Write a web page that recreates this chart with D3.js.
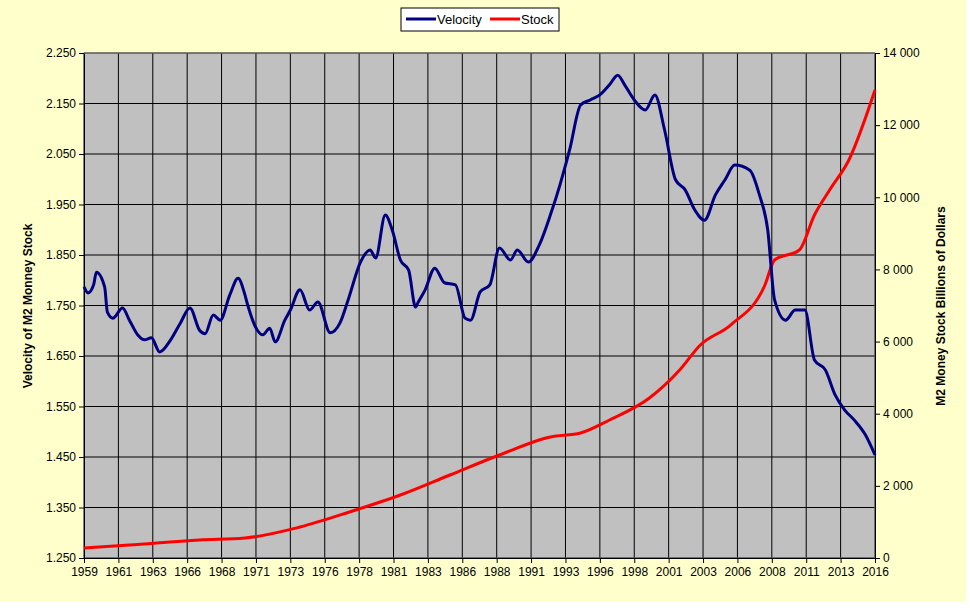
<!DOCTYPE html>
<html><head><meta charset="utf-8">
<script src="https://cdn.jsdelivr.net/npm/d3@7"></script>
<style>body{margin:0;background:#fff}</style></head>
<body><svg id="c" width="970" height="615"></svg>
<script>
const xLabels=["1959","1961","1963","1966","1968","1971","1973","1976","1978","1981","1983","1986","1988","1991","1993","1996","1998","2001","2003","2006","2008","2011","2013","2016"];
const velTicks=[1.25,1.35,1.45,1.55,1.65,1.75,1.85,1.95,2.05,2.15,2.25];
const stockTicks=[0,2000,4000,6000,8000,10000,12000,14000];
const velYears=[1959.0,1959.3,1959.7,1959.9,1960.5,1960.7,1961.1,1961.8,1962.3,1962.9,1963.4,1963.9,1964.5,1965.3,1966.0,1966.7,1967.4,1967.8,1968.4,1968.9,1969.6,1970.2,1970.7,1970.9,1971.6,1972.0,1972.5,1972.9,1973.6,1974.0,1974.7,1975.4,1976.0,1976.9,1977.6,1978.2,1979.1,1979.8,1980.2,1980.9,1981.4,1982.0,1982.6,1983.1,1983.3,1983.8,1984.5,1985.2,1986.0,1986.7,1987.1,1987.8,1988.5,1989.2,1990.0,1990.5,1991.3,1992.1,1992.9,1993.6,1994.3,1995.1,1995.8,1996.5,1997.2,1997.8,1998.3,1999.0,1999.8,2000.5,2001.2,2002.0,2002.7,2003.4,2004.1,2004.9,2005.6,2006.3,2007.4,2008.1,2008.7,2009.2,2010.0,2010.7,2011.4,2012.1,2012.9,2013.6,2014.3,2015.0,2015.8,2016.5];
const velocity=[1.787,1.775,1.791,1.816,1.787,1.737,1.725,1.745,1.721,1.692,1.682,1.686,1.658,1.682,1.715,1.745,1.701,1.694,1.731,1.721,1.771,1.804,1.771,1.751,1.701,1.692,1.705,1.678,1.721,1.741,1.781,1.741,1.757,1.696,1.715,1.761,1.836,1.860,1.844,1.929,1.900,1.840,1.820,1.747,1.757,1.781,1.824,1.795,1.791,1.725,1.721,1.777,1.791,1.864,1.840,1.860,1.836,1.870,1.929,1.989,2.058,2.147,2.157,2.167,2.187,2.206,2.187,2.157,2.137,2.167,2.098,1.999,1.979,1.939,1.919,1.969,1.999,2.028,2.018,1.969,1.900,1.761,1.721,1.741,1.741,1.642,1.622,1.573,1.543,1.523,1.494,1.454];
const stockYears=[1959.0,1962.3,1967.4,1970.7,1974.7,1978.3,1982.0,1985.6,1989.2,1992.9,1995.1,1997.2,2000.1,2002.3,2003.8,2006.0,2008.5,2009.2,2011.0,2012.1,2013.2,2014.6,2016.5];
const stock=[277,360,499,554,859,1275,1746,2301,2855,3354,3465,3825,4435,5211,5904,6459,7568,8261,8538,9508,10201,11033,12973];

const svg=d3.select("#c");
const L=84,R=875,T=53,B=558;
svg.append("rect").attr("x",0).attr("y",0).attr("width",966).attr("height",601).attr("fill","#FFFFCC");
const xi=d3.scaleLinear().domain([0,23]).range([L,R]);
const xt=d3.scaleLinear().domain([1959,2016.5]).range([L,R]);
const yv=d3.scaleLinear().domain([1.25,2.25]).range([B,T]);
const ys=d3.scaleLinear().domain([0,14000]).range([B,T]);
svg.append("rect").attr("x",L).attr("y",T).attr("width",R-L).attr("height",B-T).attr("fill","#C0C0C0");
const g=svg.append("g");
velTicks.forEach(t=>g.append("line").attr("x1",L).attr("x2",R).attr("y1",yv(t)).attr("y2",yv(t)).attr("stroke","#000"));
d3.range(24).forEach(i=>g.append("line").attr("x1",xi(i)).attr("x2",xi(i)).attr("y1",T).attr("y2",B).attr("stroke","#000"));
svg.append("rect").attr("x",L).attr("y",T).attr("width",R-L).attr("height",B-T).attr("fill","none").attr("stroke","#808080");
const font="'Liberation Sans',Arial,sans-serif";
const ax=svg.append("g").attr("transform",`translate(0,${B})`).call(d3.axisBottom(xi).tickValues(d3.range(24)).tickFormat(i=>xLabels[i]).tickSizeOuter(0).tickSize(5).tickPadding(4));
const ayl=svg.append("g").attr("transform",`translate(${L},0)`).call(d3.axisLeft(yv).tickValues(velTicks).tickFormat(d3.format(".3f")).tickSize(5).tickSizeOuter(0));
const ayr=svg.append("g").attr("transform",`translate(${R},0)`).call(d3.axisRight(ys).tickValues(stockTicks).tickFormat(d=>d3.format(",")(d).replace(",", " ")).tickSize(5).tickSizeOuter(0));
[ax,ayl,ayr].forEach(a=>{a.selectAll("text").attr("font-family",font).attr("font-size",12).attr("fill","#000");a.selectAll("line,path").attr("stroke","#000");});
svg.append("path").datum(stockYears.map((y,i)=>[y,stock[i]])).attr("fill","none").attr("stroke","#FF0000").attr("stroke-width",3)
 .attr("d",d3.line().x(d=>xt(d[0])).y(d=>ys(d[1])).curve(d3.curveMonotoneX));
svg.append("path").datum(velYears.map((y,i)=>[y,velocity[i]])).attr("fill","none").attr("stroke","#000080").attr("stroke-width",3)
 .attr("d",d3.line().x(d=>xt(d[0])).y(d=>yv(d[1])).curve(d3.curveMonotoneX));
svg.append("text").attr("transform","translate(32,306) rotate(-90)").attr("text-anchor","middle").attr("font-family",font).attr("font-size",12).attr("font-weight","bold").text("Velocity of M2 Monney Stock");
svg.append("text").attr("transform","translate(945,306) rotate(-90)").attr("text-anchor","middle").attr("font-family",font).attr("font-size",12).attr("font-weight","bold").text("M2 Money Stock Billions of Dollars");
const lg=svg.append("g");
lg.append("rect").attr("x",401).attr("y",8).attr("width",158).attr("height",23).attr("fill","#fff").attr("stroke","#000");
lg.append("line").attr("x1",406).attr("x2",436).attr("y1",19).attr("y2",19).attr("stroke","#000080").attr("stroke-width",3);
lg.append("text").attr("x",437).attr("y",24).attr("font-family",font).attr("font-size",13).text("Velocity");
lg.append("line").attr("x1",490).attr("x2",520).attr("y1",19).attr("y2",19).attr("stroke","#FF0000").attr("stroke-width",3);
lg.append("text").attr("x",521).attr("y",24).attr("font-family",font).attr("font-size",13).text("Stock");
</script></body></html>
